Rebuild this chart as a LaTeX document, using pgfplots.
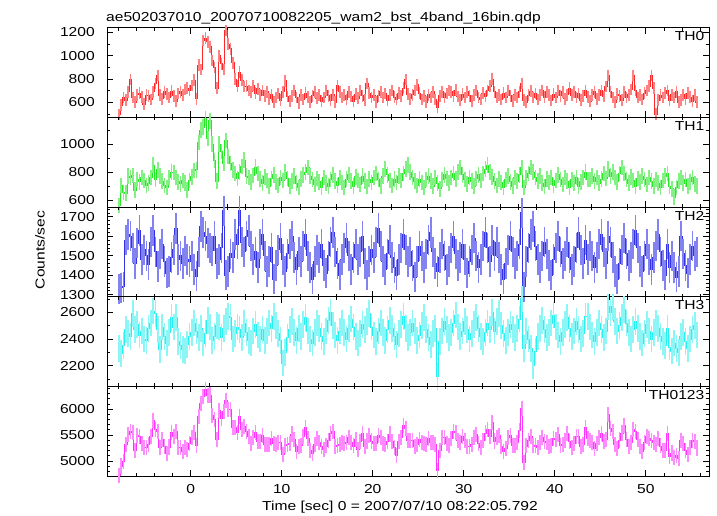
\documentclass[border=0pt]{standalone}
\usepackage{fontspec}
\setmainfont[FakeStretch=1.2]{Liberation Sans}
\usepackage{pgfplots}
\usepackage{pgfplotstable}
\pgfplotsset{compat=1.18}
\definecolor{cR}{RGB}{255,40,40}
\definecolor{eR}{RGB}{255,130,130}
\definecolor{cG}{RGB}{40,230,40}
\definecolor{eG}{RGB}{130,240,130}
\definecolor{cB}{RGB}{50,50,230}
\definecolor{eB}{RGB}{130,130,240}
\definecolor{cC}{RGB}{40,240,240}
\definecolor{eC}{RGB}{140,245,245}
\definecolor{cM}{RGB}{255,50,255}
\definecolor{eM}{RGB}{255,140,255}
\pgfplotstableread{
t a b c d e
-7.875 495 560 1330 2330 4715
-7.625 575 705 1335 2290 4905
-7.375 640 655 1340 2350 4985
-7.125 620 650 1580 2470 5320
-6.875 690 770 1610 2440 5510
-6.625 795 760 1600 2420 5575
-6.375 640 775 1540 2590 5545
-6.125 600 670 1460 2470 5200
-5.875 665 745 1565 2510 5485
-5.625 680 730 1630 2430 5470
-5.375 645 760 1480 2460 5345
-5.125 585 740 1530 2400 5255
-4.875 660 705 1500 2390 5255
-4.625 655 720 1455 2480 5310
-4.375 625 760 1570 2520 5475
-4.125 690 850 1630 2610 5780
-3.875 760 745 1520 2590 5615
-3.625 830 815 1445 2470 5560
-3.375 660 770 1510 2320 5260
-3.125 630 735 1560 2490 5415
-2.875 690 705 1470 2420 5285
-2.625 670 690 1410 2370 5140
-2.375 640 760 1420 2450 5270
-2.125 695 800 1490 2560 5545
-1.875 655 795 1530 2490 5470
-1.625 610 760 1640 2560 5570
-1.375 675 730 1480 2380 5265
-1.125 690 715 1500 2350 5255
-0.875 660 740 1460 2320 5180
-0.625 710 720 1525 2310 5265
-0.375 720 670 1480 2360 5230
-0.125 700 740 1470 2420 5330
0.125 745 765 1500 2450 5460
0.375 790 810 1430 2520 5550
0.625 630 815 1395 2460 5300
0.875 920 1010 1520 2410 5860
1.125 880 1100 1650 2480 6110
1.375 1130 1120 1620 2370 6240
1.625 1150 1180 1600 2440 6370
1.875 1120 1040 1565 2540 6265
2.125 1075 1165 1540 2490 6270
2.375 960 1000 1525 2390 5875
2.625 900 880 1600 2420 5800
2.875 720 735 1460 2500 5415
3.125 1000 1000 1480 2490 5970
3.375 930 945 1540 2410 5825
3.625 880 860 1730 2480 5950
3.875 1215 1025 1400 2530 6170
4.125 1100 910 1420 2570 6000
4.375 1060 860 1510 2560 5990
4.625 940 815 1490 2400 5645
4.875 800 790 1610 2440 5640
5.125 740 755 1560 2490 5545
5.375 860 800 1730 2470 5860
5.625 790 840 1570 2410 5610
5.875 735 885 1520 2520 5660
6.125 740 770 1600 2450 5560
6.375 700 760 1630 2390 5480
6.625 690 730 1550 2370 5340
6.875 745 775 1480 2460 5460
7.125 680 835 1520 2510 5545
7.375 715 790 1440 2430 5375
7.625 660 750 1560 2400 5370
7.875 700 720 1610 2470 5500
8.125 655 765 1500 2390 5310
8.375 690 740 1420 2460 5310
8.625 630 700 1470 2520 5320
8.875 665 755 1540 2480 5440
9.125 600 780 1380 2570 5330
9.375 640 730 1450 2500 5320
9.625 675 705 1530 2440 5350
9.875 620 760 1590 2390 5360
10.125 690 740 1480 2220 5130
10.375 785 800 1420 2300 5305
10.625 650 755 1510 2410 5325
10.875 610 700 1560 2470 5340
11.125 655 735 1600 2530 5520
11.375 700 770 1490 2450 5410
11.625 640 720 1430 2390 5180
11.875 595 690 1520 2480 5285
12.125 665 750 1470 2420 5305
12.375 625 780 1550 2510 5465
12.625 680 800 1610 2560 5650
12.875 645 830 1500 2460 5435
13.125 600 770 1440 2400 5210
13.375 655 745 1380 2370 5150
13.625 690 710 1470 2450 5320
13.875 635 755 1530 2520 5440
14.125 660 730 1490 2480 5360
14.375 610 690 1560 2420 5280
14.625 640 760 1450 2380 5230
14.875 700 720 1410 2460 5290
15.125 655 700 1500 2540 5395
15.375 620 745 1570 2600 5535
15.625 665 780 1620 2500 5565
15.875 600 735 1520 2430 5285
16.125 745 705 1460 2390 5300
16.375 690 760 1400 2460 5310
16.625 640 725 1480 2520 5365
16.875 660 690 1540 2450 5340
17.125 625 750 1590 2400 5365
17.375 690 780 1500 2480 5450
17.625 650 735 1430 2550 5365
17.875 610 700 1490 2490 5290
18.125 670 765 1560 2420 5415
18.375 635 740 1480 2370 5225
18.625 700 710 1520 2440 5370
18.875 655 770 1600 2510 5535
19.125 620 735 1460 2470 5285
19.375 760 695 1400 2530 5385
19.625 680 750 1470 2590 5490
19.875 640 725 1530 2490 5385
20.125 660 760 1490 2430 5340
20.375 600 790 1570 2380 5340
20.625 655 745 1640 2460 5500
20.875 690 700 1550 2520 5460
21.125 640 770 1470 2450 5330
21.375 675 820 1430 2390 5315
21.625 615 780 1510 2470 5375
21.875 660 740 1580 2540 5520
22.125 700 705 1490 2480 5375
22.375 645 750 1440 2420 5255
22.625 625 725 1400 2360 5110
22.875 680 770 1480 2440 5370
23.125 655 740 1540 2510 5445
23.375 720 790 1610 2570 5690
23.625 795 820 1530 2480 5625
23.875 670 850 1470 2410 5400
24.125 630 800 1520 2450 5400
24.375 665 760 1450 2520 5395
24.625 700 735 1390 2460 5285
24.875 750 705 1470 2390 5315
25.125 680 750 1550 2430 5410
25.375 625 725 1500 2500 5350
25.625 655 690 1440 2560 5345
25.875 600 745 1510 2470 5325
26.125 665 770 1580 2410 5425
26.375 640 735 1620 2360 5355
26.625 690 700 1520 2440 5350
26.875 625 760 1460 2480 5325
27.125 560 720 1420 2120 4820
27.375 655 680 1490 2380 5205
27.625 690 745 1560 2460 5455
27.875 640 780 1500 2530 5450
28.125 675 755 1430 2470 5330
28.375 700 720 1470 2410 5300
28.625 690 760 1540 2450 5440
28.875 655 790 1600 2520 5565
29.125 705 750 1510 2580 5545
29.375 650 800 1450 2490 5390
29.625 620 830 1490 2420 5360
29.875 670 780 1560 2460 5470
30.125 640 745 1480 2530 5395
30.375 690 715 1410 2470 5285
30.625 655 760 1470 2400 5285
30.875 610 735 1530 2440 5315
31.125 660 700 1590 2510 5460
31.375 700 755 1500 2560 5515
31.625 640 780 1440 2480 5340
31.875 625 740 1480 2420 5265
32.125 680 790 1550 2380 5400
32.375 650 820 1620 2450 5540
32.625 700 850 1540 2520 5610
32.875 740 800 1470 2470 5480
33.125 800 765 1580 2600 5745
33.375 690 735 1500 2460 5385
33.625 640 705 1570 2530 5445
33.875 665 750 1490 2590 5495
34.125 625 725 1430 2500 5280
34.375 680 690 1380 2440 5190
34.625 640 745 1460 2390 5235
34.875 700 770 1530 2450 5450
35.125 655 730 1600 2510 5495
35.375 610 700 1520 2470 5300
35.625 665 760 1460 2410 5295
35.875 640 735 1500 2480 5355
36.125 690 780 1560 2550 5580
36.375 760 830 1720 2700 6010
36.625 620 690 1340 2330 4980
36.875 600 760 1470 2460 5290
37.125 660 790 1540 2400 5390
37.375 695 830 1610 2330 5465
37.625 640 800 1650 2200 5290
37.875 675 760 1550 2310 5295
38.125 625 735 1480 2420 5260
38.375 660 770 1440 2480 5350
38.625 700 720 1500 2540 5460
38.875 645 695 1570 2470 5380
39.125 690 750 1510 2410 5360
39.375 660 725 1450 2450 5285
39.625 615 760 1400 2520 5295
39.875 670 705 1480 2580 5435
40.125 640 740 1540 2490 5410
40.375 700 780 1600 2430 5510
40.625 655 745 1520 2380 5300
40.875 690 710 1460 2450 5310
41.125 630 760 1500 2510 5400
41.375 665 735 1570 2560 5530
41.625 720 690 1490 2480 5380
41.875 660 745 1430 2420 5255
42.125 690 720 1470 2460 5340
42.375 640 760 1540 2530 5470
42.625 675 700 1620 2470 5465
42.875 620 730 1530 2400 5280
43.125 655 760 1460 2440 5315
43.375 700 800 1580 2570 5650
43.625 645 745 1480 2570 5440
43.875 610 745 1550 2490 5395
44.125 665 770 1500 2430 5365
44.375 690 735 1440 2380 5245
44.625 630 760 1490 2450 5330
44.875 660 720 1560 2520 5460
45.125 700 750 1610 2470 5530
45.375 650 790 1520 2410 5370
45.625 735 755 1460 2460 5410
45.875 830 820 1600 2640 5890
46.125 690 770 1570 2600 5630
46.375 640 800 1490 2640 5570
46.625 600 760 1420 2530 5310
46.875 670 730 1380 2460 5240
47.125 655 790 1460 2500 5405
47.375 620 830 1530 2560 5540
47.625 690 790 1590 2620 5690
47.875 640 745 1510 2520 5415
48.125 665 720 1450 2450 5285
48.375 710 765 1490 2400 5365
48.625 830 740 1560 2470 5600
48.875 700 700 1630 2530 5560
49.125 640 755 1540 2480 5415
49.375 660 730 1470 2420 5280
49.625 625 770 1420 2370 5185
49.875 680 745 1500 2440 5365
50.125 700 710 1560 2510 5480
50.375 740 760 1480 2460 5440
50.625 830 735 1430 2400 5395
50.875 720 700 1490 2450 5360
51.125 500 745 1550 2520 5315
51.375 620 720 1610 2480 5430
51.625 660 690 1520 2420 5290
51.875 640 740 1450 2380 5210
52.125 680 770 1400 2350 5200
52.375 700 790 1560 2480 5530
52.625 615 700 1440 2340 5095
52.875 665 680 1500 2310 5155
53.125 640 620 1440 2370 5070
53.375 690 690 1390 2330 5100
53.625 600 735 1420 2300 5055
53.875 620 760 1600 2420 5400
54.125 665 720 1510 2450 5345
54.375 630 745 1450 2380 5205
54.625 680 700 1410 2330 5120
54.875 645 730 1480 2400 5255
55.125 610 760 1550 2470 5390
55.375 660 715 1500 2500 5375
55.625 600 700 1520 2430 5250
}\data
\pgfplotsset{
  panel/.style={
    scale only axis, width=602pt, height=89.66pt, anchor=south west,
    xmin=-9.2, xmax=56.95,
    xtick={0,10,20,30,40,50},
    minor xtick={-8,-6,-4,-2,2,4,6,8,12,14,16,18,22,24,26,28,32,34,36,38,42,44,46,48,52,54,56},
    tick align=inside, xtick pos=both, ytick pos=both,
    major tick length=6pt, minor tick length=3pt,
    every tick/.style={black, line width=0.7pt},
    axis line style={line width=0.8pt},
    /pgf/number format/1000 sep={},
    /pgf/number format/assume math mode=true,
    scaled y ticks=false,
    yticklabel style={xshift=-7.7pt},
    xticklabel style={yshift=-4.2pt},
  },
  errs/.style 2 args={only marks, mark=|, mark size=#2,
    mark options={#1, line width=1.7pt}, forget plot},
  stepline/.style={#1, line width=0.9pt, const plot mark mid, mark=none},
}
\begin{document}
\fontsize{13}{16}\selectfont
\begin{tikzpicture}
\path[use as bounding box] (0,0) rectangle (717pt,516pt);
% TH0
\begin{axis}[panel, at={(107pt,398.64pt)}, xticklabels={},
  ymin=471, ymax=1240, ytick={600,800,1000,1200}, minor ytick={500,700,900,1100}]
\addplot[errs={eR}{5.83pt}] table[x=t,y=a]{\data};
\addplot[stepline=cR] table[x=t,y=a]{\data};
\node[anchor=north east, inner sep=0pt, xshift=-4.5pt, yshift=-4pt] at (rel axis cs:1,1) {TH0};
\end{axis}
% TH1
\begin{axis}[panel, at={(107pt,308.98pt)}, xticklabels={},
  ymin=550, ymax=1190, ytick={600,800,1000}, minor ytick={700,900,1100}]
\addplot[errs={eG}{7.71pt}] table[x=t,y=b]{\data};
\addplot[stepline=cG] table[x=t,y=b]{\data};
\node[anchor=north east, inner sep=0pt, xshift=-4.5pt, yshift=-4pt] at (rel axis cs:1,1) {TH1};
\end{axis}
% TH2
\begin{axis}[panel, at={(107pt,219.32pt)}, xticklabels={},
  ymin=1290, ymax=1750, ytick={1300,1400,1500,1600,1700}, minor ytick={1320,1340,1360,1380,1420,1440,1460,1480,1520,1540,1560,1580,1620,1640,1660,1680,1720,1740}]
\addplot[errs={eB}{15.2pt}] table[x=t,y=c]{\data};
\addplot[stepline=cB] table[x=t,y=c]{\data};
\node[anchor=north east, inner sep=0pt, xshift=-4.5pt, yshift=-4pt] at (rel axis cs:1,1) {TH2};
\end{axis}
% TH3
\begin{axis}[panel, at={(107pt,129.66pt)}, xticklabels={},
  ymin=2045, ymax=2717, ytick={2200,2400,2600}, minor ytick={2100,2300,2500,2700}]
\addplot[errs={eC}{13.34pt}] table[x=t,y=d]{\data};
\addplot[stepline=cC] table[x=t,y=d]{\data};
\node[anchor=north east, inner sep=0pt, xshift=-4.5pt, yshift=-4pt] at (rel axis cs:1,1) {TH3};
\end{axis}
% TH0123
\begin{axis}[panel, at={(107pt,40pt)},
  ymin=4712, ymax=6437, ytick={5000,5500,6000}, minor ytick={4800,4900,5100,5200,5300,5400,5600,5700,5800,5900,6100,6200,6300,6400}]
\addplot[errs={eM}{7.54pt}] table[x=t,y=e]{\data};
\addplot[stepline=cM] table[x=t,y=e]{\data};
\node[anchor=north east, inner sep=0pt, xshift=-4.5pt, yshift=-4pt] at (rel axis cs:1,1) {TH0123};
\end{axis}
\node[anchor=base west, inner sep=0pt] at (106pt,494.3pt) {ae502037010\_20070710082205\_wam2\_bst\_4band\_16bin.qdp};
\node[rotate=90, inner sep=0pt] at (40pt,266pt) {Counts/sec};
\node[anchor=base, inner sep=0pt] at (400pt,5.5pt) {Time [sec] 0 = 2007/07/10 08:22:05.792};
\end{tikzpicture}
\end{document}
